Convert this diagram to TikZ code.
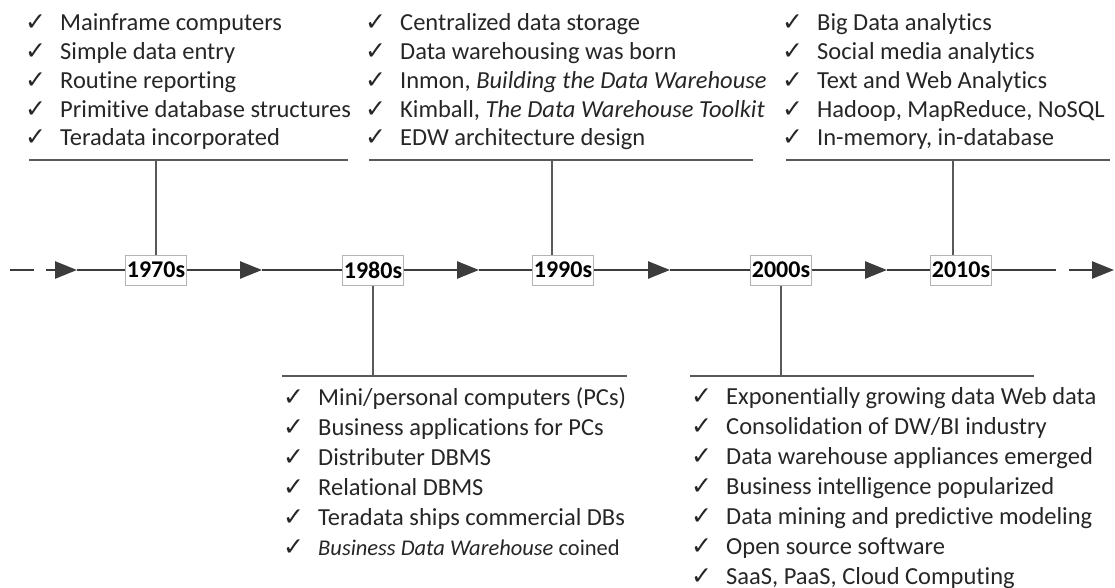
\documentclass[tikz,border=0pt]{standalone}
\usepackage{fontspec}
\setmainfont{Carlito}[Ligatures=NoCommon]
\newfontfamily\chkfont{DejaVu Sans}
\usetikzlibrary{arrows.meta}

\definecolor{ink}{HTML}{262626}
\definecolor{axis}{HTML}{3C3C3C}
\definecolor{rulegray}{HTML}{595959}
\definecolor{boxline}{HTML}{B4B4B4}

% check mark followed by a fixed gap before the item text
\newcommand{\tickitem}{\makebox[35pt][l]{\chkfont\fontsize{25}{25}\selectfont ✓}}

\begin{document}
\begin{tikzpicture}[x=1pt,y=-1pt,
  axisline/.style={line width=2.6pt, draw=axis},
  axisarrow/.style={axisline, -{Triangle[length=22pt,width=17pt]}},
  yearbox/.style={draw=boxline, line width=1pt, fill=white, inner xsep=1pt,
    inner ysep=0pt, minimum height=30pt, text=black,
    font=\bfseries\fontsize{24}{24}\selectfont},
  stem/.style={line width=2pt, draw=rulegray},
  bar/.style={line width=2pt, draw=rulegray},
  % lists are placed by the baseline of their last line
  itemlist/.style={anchor=base west, inner sep=0pt, align=left, text=ink,
    font=\fontsize{24.5}{28.8}\selectfont},
  itemlistlow/.style={itemlist, font=\fontsize{24.5}{30}\selectfont},
]
\useasboundingbox (0,0) rectangle (1115,588);

% ---- decade boxes on the axis ----
\node[yearbox] (y70) at (156,270) {1970s};
\node[yearbox] (y80) at (373,270) {1980s};
\node[yearbox] (y90) at (563,270) {1990s};
\node[yearbox] (y00) at (781,270) {2000s};
\node[yearbox] (y10) at (961,270) {2010s};

% ---- axis with arrowheads between the boxes ----
\coordinate (d0) at (10,270);  \coordinate (d1) at (34,270);
\coordinate (s0) at (46,270);  \coordinate (a1) at (77,270);
\coordinate (a2) at (262,270); \coordinate (a3) at (479,270);
\coordinate (a4) at (670,270); \coordinate (a5) at (887,270);
\coordinate (e1) at (1056,270); \coordinate (e2) at (1069,270);
\coordinate (e3) at (1114,270);

\draw[axisline] (d0) -- (d1);
\draw[axisarrow] (s0) -- (a1);
\draw[axisline] (a1) -- (y70);
\draw[axisarrow] (y70) -- (a2);
\draw[axisline] (a2) -- (y80);
\draw[axisarrow] (y80) -- (a3);
\draw[axisline] (a3) -- (y90);
\draw[axisarrow] (y90) -- (a4);
\draw[axisline] (a4) -- (y00);
\draw[axisarrow] (y00) -- (a5);
\draw[axisline] (a5) -- (y10);
\draw[axisline] (y10) -- (e1);
\draw[axisarrow] (e2) -- (e3);

% ---- brackets above the axis ----
\coordinate (b70l) at (29,160);  \coordinate (b70r) at (348,160);
\coordinate (b90l) at (369,160); \coordinate (b90r) at (753,160);
\coordinate (b10l) at (786,160); \coordinate (b10r) at (1110,160);
\coordinate (t70) at (156,160);
\coordinate (t90) at (552,160);
\coordinate (t10) at (953,160);

\draw[bar] (b70l) -- (b70r);
\draw[bar] (b90l) -- (b90r);
\draw[bar] (b10l) -- (b10r);
\draw[stem] (t70) -- (t70 |- y70.north);
\draw[stem] (t90) -- (t90 |- y90.north);
\draw[stem] (t10) -- (t10 |- y10.north);

% ---- brackets below the axis ----
\coordinate (b80l) at (282,376); \coordinate (b80r) at (627,376);
\coordinate (b00l) at (690,376); \coordinate (b00r) at (1034,376);
\coordinate (t80) at (373,376);
\coordinate (t00) at (781,376);

\draw[bar] (b80l) -- (b80r);
\draw[bar] (b00l) -- (b00r);
\draw[stem] (y80.south) -- (t80);
\draw[stem] (y00.south) -- (t00);

% ---- item lists ----
\node[itemlist] (l70) at (25,146) {%
\tickitem Mainframe computers\\
\tickitem Simple data entry\\
\tickitem Routine reporting\\
\tickitem Primitive database structures\\
\tickitem Teradata incorporated};

\node[itemlist] (l90) at (365,146) {%
\tickitem Centralized data storage\\
\tickitem Data warehousing was born\\
\tickitem Inmon, \textit{Building the Data Warehouse}\\
\tickitem Kimball, \textit{The Data Warehouse Toolkit}\\
\tickitem EDW architecture design};

\node[itemlist] (l10) at (782,146) {%
\tickitem Big Data analytics\\
\tickitem Social media analytics\\
\tickitem Text and Web Analytics\\
\tickitem Hadoop, MapReduce, NoSQL\\
\tickitem In-memory, in-database};

\node[itemlistlow] (l80) at (283,555) {%
\tickitem Mini/personal computers (PCs)\\
\tickitem Business applications for PCs\\
\tickitem Distributer DBMS\\
\tickitem Relational DBMS\\
\tickitem Teradata ships commercial DBs\\
{\fontsize{22.5}{30}\selectfont\tickitem \textit{Business Data Warehouse} coined}};

\node[itemlistlow] (l00) at (691,584) {%
\tickitem Exponentially growing data Web data\\
\tickitem Consolidation of DW/BI industry\\
\tickitem Data warehouse appliances emerged\\
\tickitem Business intelligence popularized\\
\tickitem Data mining and predictive modeling\\
\tickitem Open source software\\
\tickitem SaaS, PaaS, Cloud Computing};
\end{tikzpicture}
\end{document}
